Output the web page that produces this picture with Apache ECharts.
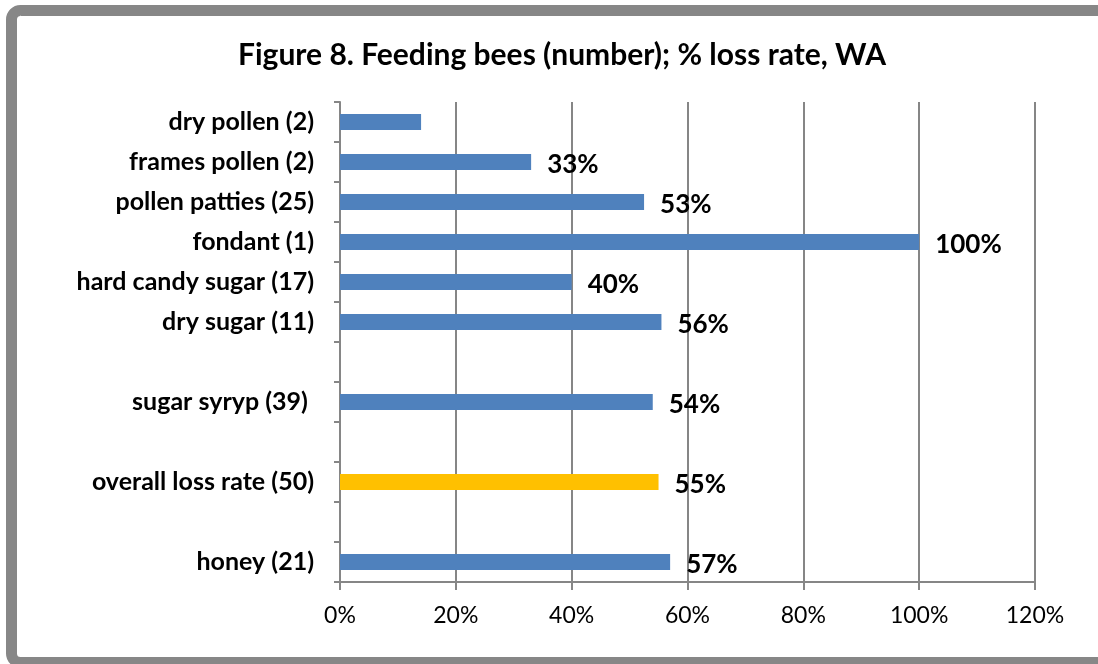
<!DOCTYPE html>
<html>
<head>
<meta charset="utf-8">
<script src="https://cdn.jsdelivr.net/npm/echarts@6/dist/echarts.min.js"></script>
<style>
  html, body { margin: 0; padding: 0; background: #fff; }
  #chart { width: 1098px; height: 664px; }
</style>
</head>
<body>
<div id="chart"></div>
<script>
// categories top to bottom, '' rows are empty gaps
var categories = ['dry pollen (2)', 'frames pollen (2)', 'pollen patties (25)', 'fondant (1)',
  'hard candy sugar (17)', 'dry sugar (11)', '', 'sugar syryp (39) ', '', 'overall loss rate (50)', '', 'honey (21)'];
var lossRate = [0.14, 0.33, 0.525, 1.0, 0.40, 0.555, null, 0.54, null, 0.55, null, 0.57];
var showLabel = [false, true, true, true, true, true, false, true, false, true, false, true];
var xTicks = [0, 0.2, 0.4, 0.6, 0.8, 1.0, 1.2];

var font = 'Lato, "Open Sans", sans-serif';

var barData = lossRate.map(function (v, i) {
  var item = { value: v, label: { show: showLabel[i] } };
  if (categories[i].indexOf('overall') === 0) {
    item.itemStyle = { color: '#FFC000' };
  }
  return item;
});

var myChart = echarts.init(document.getElementById('chart'));
myChart.setOption({
  animation: false,
  title: {
    text: 'Figure 8. Feeding bees (number); % loss rate, WA',
    left: 557,
    top: 35,
    textAlign: 'center',
    textStyle: { fontFamily: font, fontWeight: 'bold', fontSize: 30, color: '#000' }
  },
  graphic: [{
    type: 'rect',
    shape: { x: 11.5, y: 10.5, width: 1200, height: 652, r: 9 },
    style: { fill: 'none', stroke: '#878787', lineWidth: 11 },
    silent: true
  }],
  grid: { left: 340, right: 63, top: 102, bottom: 82 },
  xAxis: {
    type: 'value',
    min: xTicks[0],
    max: xTicks[xTicks.length - 1],
    interval: 0.2,
    axisLine: { show: true, lineStyle: { color: '#868686', width: 2 } },
    axisTick: { show: true, length: 8, lineStyle: { color: '#868686', width: 2 } },
    splitLine: { show: true, lineStyle: { color: '#868686', width: 2 } },
    axisLabel: {
      margin: 22,
      fontFamily: font,
      fontSize: 23,
      color: '#000',
      formatter: function (v) { return Math.round(v * 100) + '%'; }
    }
  },
  yAxis: {
    type: 'category',
    inverse: true,
    data: categories,
    axisLine: { show: true, lineStyle: { color: '#868686', width: 2 } },
    axisTick: { show: true, length: 6, lineStyle: { color: '#868686', width: 2 } },
    axisLabel: {
      margin: 26,
      fontFamily: font,
      fontWeight: 'bold',
      fontSize: 25,
      color: '#000'
    }
  },
  series: [{
    type: 'bar',
    data: barData,
    barWidth: 16,
    itemStyle: { color: '#4F81BD' },
    label: {
      position: 'right',
      distance: 16,
      offset: [0, 3],
      fontFamily: font,
      fontWeight: 'bold',
      fontSize: 26,
      color: '#000',
      formatter: function (p) { return Math.round(p.value * 100) + '%'; }
    }
  }]
});
</script>
</body>
</html>
